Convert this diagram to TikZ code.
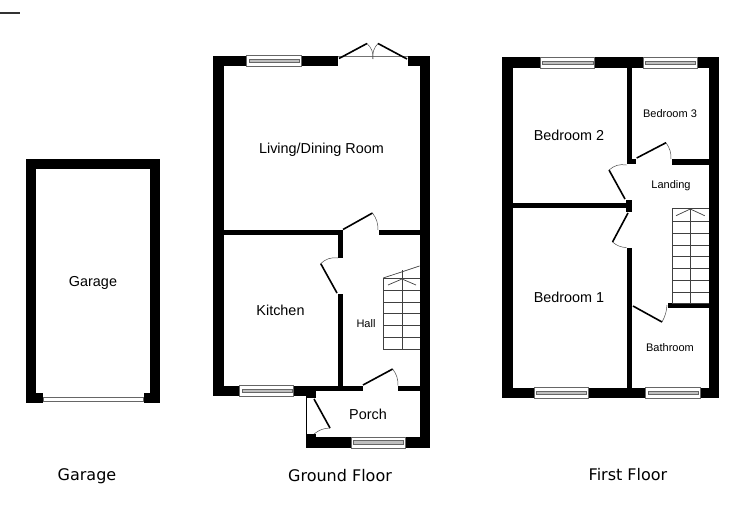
\documentclass[tikz,border=0pt]{standalone}
\usepackage{fontspec}
\setmainfont{Liberation Sans}
\newfontfamily\capfont{DejaVu Sans}
\usetikzlibrary{positioning}

\tikzset{
  wall/.style={fill=black},
  leaf/.style={draw=black,line width=1.6pt},
  swing/.style={draw=black!70,line width=0.5pt},
  tread/.style={draw=black!75,line width=0.7pt},
  biglabel/.style={font=\fontsize{14.4}{16}\selectfont,inner sep=0pt},
  smalllabel/.style={font=\fontsize{11}{13}\selectfont,inner sep=0pt},
  caplabel/.style={font=\capfont\fontsize{16}{18}\selectfont,inner sep=0pt}
}

% window in a wall: left, right, top
\newcommand{\wind}[3]{
  \draw[black!60,line width=0.5pt,fill=white] (#1,#3) rectangle (#2,#3+11);
  \draw[black!60,line width=0.5pt,fill=black!25] (#1+2.5,#3+3.5) rectangle (#2-1.5,#3+7);
}
% door: hinge, tip, end of swing
\newcommand{\door}[4][18]{
  \draw[leaf] (#2) -- (#3);
  \draw[swing] (#3) to[bend left=#1] (#4);
}

\begin{document}
\begin{tikzpicture}[x=1pt,y=-1pt]
\useasboundingbox (0,0) rectangle (750,525);
\fill[white] (0,0) rectangle (750,525);

\draw[black!80,line width=2pt] (0,13) -- (20,13);

% Garage

\fill[wall] (26,159) rectangle (160,169.3);
\fill[wall] (26,159) rectangle (36.3,403);
\fill[wall] (149.7,159) rectangle (160,403);
\fill[wall] (26,392.7) rectangle (42.7,403);
\fill[wall] (143.7,392.7) rectangle (160,403);
\draw[black!60,line width=0.5pt,fill=white] (43,397) rectangle (143.7,401.5);

\node[biglabel] (garage) at (93,283) {Garage};

% Ground floor

\fill[wall] (213.3,55.7) rectangle (224,396);
\fill[wall] (419.5,55.7) rectangle (430,447.6);
\fill[wall] (213.3,55.7) rectangle (337.7,66);
\fill[wall] (407.7,55.7) rectangle (430,66);
\fill[wall] (224,230) rectangle (342.7,235.3);
\fill[wall] (378.5,230) rectangle (419.5,235.3);
\fill[wall] (337.7,230) rectangle (342.7,258.3);
\fill[wall] (337.7,294) rectangle (342.7,386);
\fill[wall] (213.3,385.6) rectangle (316,396);
\fill[wall] (316,385.6) rectangle (362.7,390.7);
\fill[wall] (398,385.6) rectangle (419.5,390.7);
\fill[wall] (306.3,396) rectangle (316,398);
\fill[wall] (306.3,434) rectangle (316,447.6);
\fill[wall] (306.3,437) rectangle (430,447.6);
\draw[black,line width=0.5pt] (306.7,398) -- (306.7,434);

\wind{246.7}{301}{55.7}
\wind{239.3}{293.3}{385.3}
\wind{351}{405}{437}

% french doors
\draw[black!55,line width=1pt] (338,56) -- (408,56);
\door[25]{339,58.5}{367,43.5}{373,59}
\draw[leaf] (407,59) -- (378,43.5);
\draw[swing] (378,43.5) to[bend right=25] (373,59);

\door{343,229.5}{372.5,213}{378,230}
\door[25]{337,293}{320.7,263.6}{338,258}
\door[-18]{314,399}{330,428}{314,434}
\door{363,385}{392.7,369}{398,385.5}

% stairs
\foreach \yy in {278,290,302,313.7,325.3,337.3,349}
  \draw[tread] (383.3,\yy) -- (419.5,\yy);
\draw[tread] (383.3,278) -- (383.3,349);
\draw[tread] (402,270) -- (402,349);
\draw[tread] (383.3,278) -- (419.5,266);
\draw[tread] (388,285) -- (402,279) -- (416,285);

\node[biglabel] (living) at (321.5,150) {Living/Dining Room};
\node[biglabel] (kitchen) at (280.5,310) {Kitchen};
\node[smalllabel] (hall) at (366,324) {Hall};
\node[biglabel] (porch) at (368,414) {Porch};

% First floor

\fill[wall] (502.3,57.3) rectangle (512.7,398);
\fill[wall] (708.7,57.3) rectangle (719,398);
\fill[wall] (502.3,57.3) rectangle (719,68);
\fill[wall] (502.3,387.7) rectangle (719,398);
\fill[wall] (626.5,68) rectangle (632,164.3);
\fill[wall] (626.5,159) rectangle (636,164.3);
\fill[wall] (671.5,159) rectangle (708.7,164.7);
\fill[wall] (512.7,202.7) rectangle (626.5,208);
\fill[wall] (626,200) rectangle (632,212);
\fill[wall] (626.5,247.6) rectangle (632,388);
\fill[wall] (667.7,303) rectangle (708.7,308.3);

\wind{540}{594.7}{57.3}
\wind{643}{697}{57.3}
\wind{534}{588}{387.3}
\wind{645.7}{700}{387.3}

\door{636.7,158}{666,142.7}{671,159}
\door[25]{625,199}{609,170}{626.5,165}
\door[-18]{628,213}{612.5,242}{626.5,247.6}
\door[-12]{633,306}{662,322}{667,305}

% stairs
\foreach \yy in {208.5,221.7,233.3,245,256.7,268.3,280,292,303}
  \draw[tread] (672,\yy) -- (708.7,\yy);
\draw[tread] (672,208.5) -- (672,303);
\draw[tread] (690.3,208.5) -- (690.3,303);
\draw[tread] (676,215.7) -- (690.3,209) -- (704.7,215.7);

\node[biglabel] (bed2) at (569,135) {Bedroom 2};
\node[smalllabel] (bed3) at (670,113.5) {Bedroom 3};
\node[smalllabel] (landing) at (671,186) {Landing};
\node[biglabel] (bed1) at (569,297.5) {Bedroom 1};
\node[smalllabel] (bath) at (670,348) {Bathroom};

% captions

\node[caplabel] (capgarage) at (87,476) {Garage};
\node[caplabel] (capground) at (340,475.5) {Ground Floor};
\node[caplabel] (capfirst) at (628,474.5) {First Floor};

\end{tikzpicture}
\end{document}
